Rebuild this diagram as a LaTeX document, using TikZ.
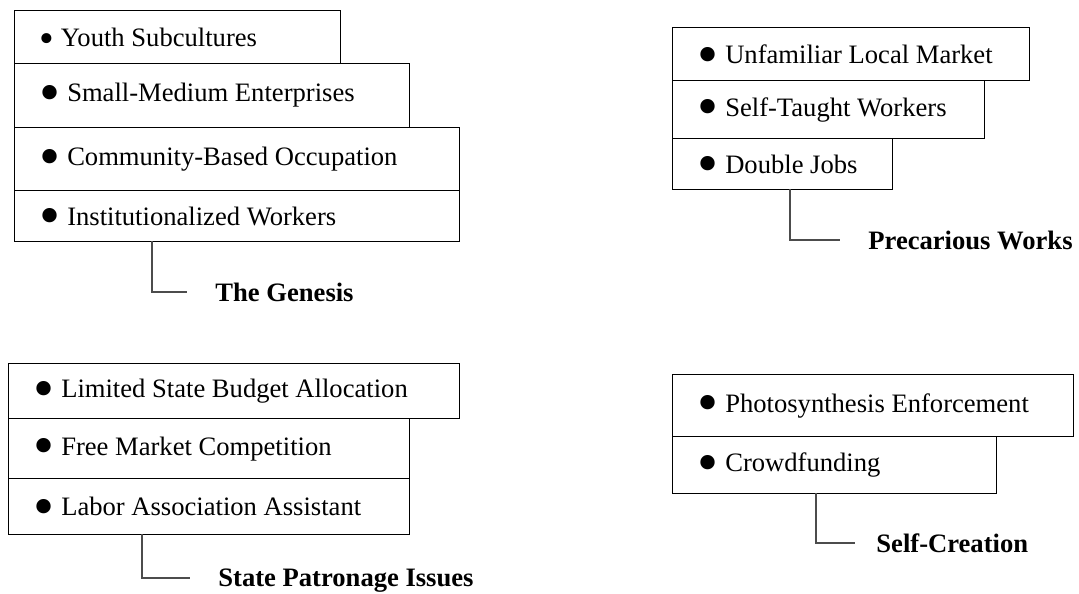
\documentclass[tikz,border=0pt]{standalone}
\usepackage{fontspec}
\setmainfont{Liberation Serif}
\usetikzlibrary{positioning}
\newcommand{\smalldot}{\raisebox{-1.8pt}[0pt][0pt]{$\vcenter{\hbox{\fontsize{21}{21}\selectfont\textbullet}}$}}
\newcommand{\bigdot}{\raisebox{-2.2pt}[0pt][0pt]{$\vcenter{\hbox{\fontsize{30}{30}\selectfont\textbullet}}$}}

\begin{document}
\begin{tikzpicture}[
    x=0.5pt, y=-0.5pt,
    every node/.style={font=\fontsize{13.3}{16}\selectfont},
    item/.style={draw, line width=0.6pt, anchor=north west, inner xsep=12.5pt,
                 inner ysep=0pt, align=flush left},
    heading/.style={anchor=west, inner xsep=14pt, text depth=0pt,
                    font=\fontsize{13.3}{16}\selectfont\bfseries},
    link/.style={draw=black!70, line width=0.6pt}
]
    \useasboundingbox (0,0) rectangle (1079,593);

    % The Genesis (4)
    \node[item, text width=138pt,   minimum height=26.5pt] (gen1) at (14, 10) {\smalldot\ Youth Subcultures};
    \node[item, text width=172.5pt, minimum height=32pt]   (gen2) at (14, 63) {\bigdot\ Small-Medium Enterprises};
    \node[item, text width=197.5pt, minimum height=31.5pt] (gen3) at (14,127) {\bigdot\ Community-Based Occupation};
    \node[item, text width=197.5pt, minimum height=25.5pt] (gen4) at (14,190) {\bigdot\ Institutionalized Workers};

    \coordinate (genfoot) at (152,241);
    \node[heading] (genesis) at (187,292) {The Genesis};
    \draw[link] (genfoot) |- (genesis.west);

    % Precarious Works (3)
    \node[item, text width=153.5pt, minimum height=26.5pt] (prec1) at (672, 27) {\bigdot\ Unfamiliar Local Market};
    \node[item, text width=131pt,   minimum height=29pt]   (prec2) at (672, 80) {\bigdot\ Self-Taught Workers};
    \node[item, text width=85pt,    minimum height=25.5pt] (prec3) at (672,138) {\bigdot\ Double Jobs};

    \coordinate (precfoot) at (790,189);
    \node[heading] (precarious) at (840,240) {Precarious Works};
    \draw[link] (precfoot) |- (precarious.west);

    % State Patronage Issues (3)
    \node[item, text width=200.5pt, minimum height=27.5pt] (pat1) at (8,363) {\bigdot\ Limited State Budget Allocation};
    \node[item, text width=175.5pt, minimum height=30pt]   (pat2) at (8,418) {\bigdot\ Free Market Competition};
    \node[item, text width=175.5pt, minimum height=28pt]   (pat3) at (8,478) {\bigdot\ Labor Association Assistant};

    \coordinate (patfoot) at (142,534);
    \node[heading] (patronage) at (190,578) {State Patronage Issues};
    \draw[link] (patfoot) |- (patronage.west);

    % Self-Creation (2)
    \node[item, text width=175.5pt, minimum height=31pt]   (cre1) at (672,374) {\bigdot\ Photosynthesis Enforcement};
    \node[item, text width=137pt,   minimum height=28.5pt] (cre2) at (672,436) {\bigdot\ Crowdfunding};

    \coordinate (crefoot) at (816,493);
    \node[heading, inner xsep=10.5pt] (creation) at (855,543) {Self-Creation};
    \draw[link] (crefoot) |- (creation.west);
\end{tikzpicture}
\end{document}
